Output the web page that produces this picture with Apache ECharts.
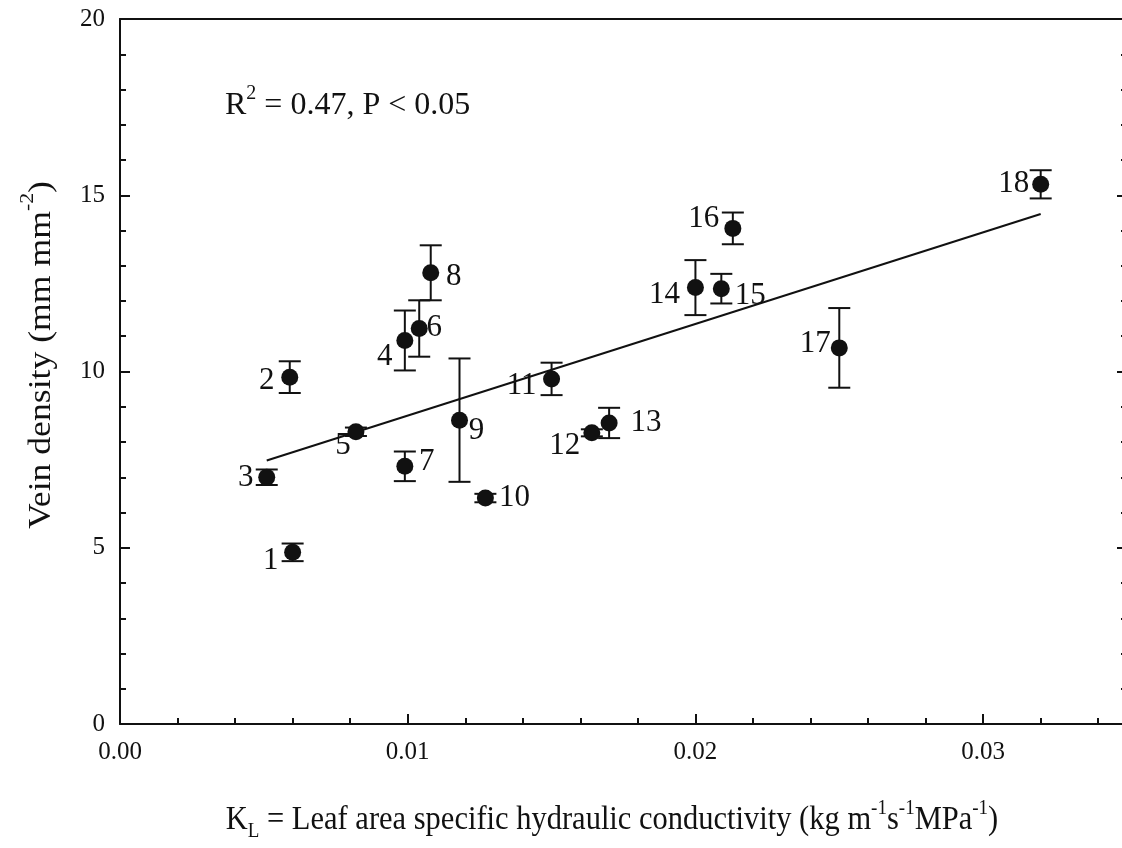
<!DOCTYPE html>
<html>
<head>
<meta charset="utf-8">
<title>Vein density vs leaf hydraulic conductivity</title>
<script src="https://cdn.jsdelivr.net/npm/echarts/dist/echarts.min.js"></script>
<style>
  html, body { margin: 0; padding: 0; background: #ffffff; }
  #chart { width: 1122px; height: 848px; }
</style>
</head>
<body>
<div id="chart"></div>
<script>
// Species numbers shown next to each point
const speciesIds = [1, 2, 3, 4, 5, 6, 7, 8, 9, 10, 11, 12, 13, 14, 15, 16, 17, 18];
// K_L, leaf area specific hydraulic conductivity (kg m-1 s-1 MPa-1)
const leafConductivity = [0.0060, 0.0059, 0.0051, 0.0099, 0.0082, 0.0104, 0.0099, 0.0108, 0.0118,
                          0.0127, 0.0150, 0.0164, 0.0170, 0.0200, 0.0209, 0.0213, 0.0250, 0.0320];
// Vein density (mm mm-2), mean and standard error
const veinDensity = [4.87, 9.84, 7.00, 10.88, 8.29, 11.22, 7.31, 12.80, 8.62,
                     6.41, 9.79, 8.26, 8.54, 12.38, 12.35, 14.06, 10.67, 15.31];
const veinDensitySE = [0.25, 0.45, 0.22, 0.85, 0.12, 0.80, 0.42, 0.78, 1.75,
                       0.12, 0.46, 0.10, 0.43, 0.78, 0.42, 0.45, 1.13, 0.40];
// Linear regression of vein density on K_L
const fitSlope = 260.0;
const fitIntercept = 6.148;
const fitR2 = '0.47';
const fitP = '0.05';
// Tick labels
const xTickLabels = ['0.00', '0.01', '0.02', '0.03'];
const yTickLabels = ['0', '5', '10', '15', '20'];

const FONT = '"Liberation Serif", "Times New Roman", serif';
const INK = '#111111';

// where each species number sits relative to its point (px)
const labelOffsets = [
  [-22, 9], [-23, 4], [-21, 1], [-20, 16], [-13, 14], [15, -1], [22, -4], [23, 4], [17, 11],
  [29, 0], [-30, 7], [-27, 13], [37, 0], [-31, 7], [29, 7], [-29, -10], [-24, -4], [-27, 0]
];

const points = speciesIds.map((id, i) => ({
  name: String(id),
  value: [leafConductivity[i], veinDensity[i]],
  label: { offset: labelOffsets[i] }
}));
const errorData = speciesIds.map((id, i) => [leafConductivity[i], veinDensity[i], veinDensitySE[i]]);

const xMin = Math.min(...leafConductivity);
const xMax = Math.max(...leafConductivity);
const fitLine = [[xMin, fitIntercept + fitSlope * xMin], [xMax, fitIntercept + fitSlope * xMax]];

const axisLineStyle = { color: INK, width: 2 };
const hidden = { show: false };

const chart = echarts.init(document.getElementById('chart'), null, { renderer: 'canvas' });

chart.setOption({
  backgroundColor: '#ffffff',
  animation: false,
  // the right-hand frame sits just past the page edge
  grid: { left: 120, top: 19, width: 1007, height: 705, containLabel: false, outerBoundsMode: 'none' },
  xAxis: [
    {
      type: 'value', min: 0, max: 0.035, interval: 0.01, position: 'bottom',
      axisLine: { show: true, onZero: false, lineStyle: axisLineStyle },
      axisTick: { show: true, inside: true, length: 10, lineStyle: { color: INK, width: 2 } },
      axisLabel: {
        show: true, showMaxLabel: false, margin: 16, color: INK, fontFamily: FONT, fontSize: 25,
        formatter: v => xTickLabels[Math.round(v / 0.01)] || ''
      },
      splitLine: hidden
    },
    {
      type: 'value', min: 0, max: 0.035, interval: 0.002, position: 'bottom',
      axisLine: hidden,
      axisTick: { show: true, inside: true, length: 6, lineStyle: { color: INK, width: 2 } },
      axisLabel: hidden, splitLine: hidden
    },
    {
      type: 'value', min: 0, max: 0.035, position: 'top',
      axisLine: { show: true, onZero: false, lineStyle: axisLineStyle },
      axisTick: hidden, axisLabel: hidden, splitLine: hidden
    }
  ],
  yAxis: [
    {
      type: 'value', min: 0, max: 20, interval: 5, position: 'left',
      axisLine: { show: true, onZero: false, lineStyle: axisLineStyle },
      axisTick: { show: true, inside: true, length: 10, lineStyle: { color: INK, width: 2 } },
      minorTick: { show: true, splitNumber: 5, length: 6, lineStyle: { color: INK, width: 2 } },
      axisLabel: {
        show: true, margin: 15, color: INK, fontFamily: FONT, fontSize: 25,
        formatter: v => yTickLabels[Math.round(v / 5)] || ''
      },
      splitLine: hidden, minorSplitLine: hidden
    },
    {
      type: 'value', min: 0, max: 20, interval: 5, position: 'right',
      axisLine: { show: true, onZero: false, lineStyle: axisLineStyle },
      axisTick: { show: true, inside: true, length: 10, lineStyle: { color: INK, width: 2 } },
      minorTick: { show: true, splitNumber: 5, length: 6, lineStyle: { color: INK, width: 2 } },
      axisLabel: hidden, splitLine: hidden, minorSplitLine: hidden
    }
  ],
  series: [
    {
      type: 'line', xAxisIndex: 0, yAxisIndex: 0, data: fitLine,
      showSymbol: false, symbol: 'none', silent: true,
      lineStyle: { color: INK, width: 2 }, z: 2
    },
    {
      type: 'custom', xAxisIndex: 0, yAxisIndex: 0, data: errorData, silent: true, z: 3,
      renderItem: function (params, api) {
        const x = api.value(0), y = api.value(1), e = api.value(2);
        const hi = api.coord([x, y + e]);
        const lo = api.coord([x, y - e]);
        const cap = 11;
        const style = { stroke: INK, lineWidth: 2 };
        return {
          type: 'group',
          children: [
            { type: 'line', shape: { x1: hi[0], y1: hi[1], x2: lo[0], y2: lo[1] }, style },
            { type: 'line', shape: { x1: hi[0] - cap, y1: hi[1], x2: hi[0] + cap, y2: hi[1] }, style },
            { type: 'line', shape: { x1: lo[0] - cap, y1: lo[1], x2: lo[0] + cap, y2: lo[1] }, style }
          ]
        };
      }
    },
    {
      type: 'scatter', xAxisIndex: 0, yAxisIndex: 0, data: points,
      symbol: 'circle', symbolSize: 17, z: 4, silent: true,
      itemStyle: { color: INK, opacity: 1 },
      emphasis: { disabled: true },
      label: {
        show: true, position: 'inside', formatter: '{b}', opacity: 1,
        color: INK, fontFamily: FONT, fontSize: 31,
        textBorderWidth: 0
      }
    }
  ],
  graphic: [
    {
      type: 'text', x: 225, y: 103,
      style: {
        text: '{n|R}{sup|2}{n| = ' + fitR2 + ', P < ' + fitP + '}',
        textVerticalAlign: 'middle', verticalAlign: 'middle', textAlign: 'left', align: 'left',
        fill: INK, fontFamily: FONT, fontSize: 32,
        rich: {
          n: { fontFamily: FONT, fontSize: 32, lineHeight: 38, verticalAlign: 'bottom', fill: INK },
          sup: { fontFamily: FONT, fontSize: 20, lineHeight: 20, verticalAlign: 'top', fill: INK }
        }
      }
    },
    {
      type: 'text', x: 612, y: 820, scaleY: 1.12,
      style: {
        text: '{n|K}{sub|L}{n| = Leaf area specific hydraulic conductivity (kg m}{sup|-1}{n|s}{sup|-1}{n|MPa}{sup|-1}{n|)}',
        textVerticalAlign: 'middle', verticalAlign: 'middle', textAlign: 'center', align: 'center',
        fill: INK, fontFamily: FONT, fontSize: 30.5,
        rich: {
          n: { fontFamily: FONT, fontSize: 30.5, lineHeight: 40, verticalAlign: 'middle', fill: INK },
          sup: { fontFamily: FONT, fontSize: 19, lineHeight: 19, verticalAlign: 'top', fill: INK },
          sub: { fontFamily: FONT, fontSize: 19, lineHeight: 19, verticalAlign: 'bottom', fill: INK }
        }
      }
    },
    {
      type: 'text', x: 38, y: 355, rotation: Math.PI / 2, scaleX: 1.15,
      style: {
        text: '{n|Vein density (mm mm}{sup|-2}{n|)}',
        textVerticalAlign: 'middle', verticalAlign: 'middle', textAlign: 'center', align: 'center',
        fill: INK, fontFamily: FONT, fontSize: 31,
        rich: {
          n: { fontFamily: FONT, fontSize: 31, lineHeight: 38, verticalAlign: 'bottom', fill: INK },
          sup: { fontFamily: FONT, fontSize: 19, lineHeight: 19, verticalAlign: 'top', fill: INK }
        }
      }
    }
  ]
});
</script>
</body>
</html>
